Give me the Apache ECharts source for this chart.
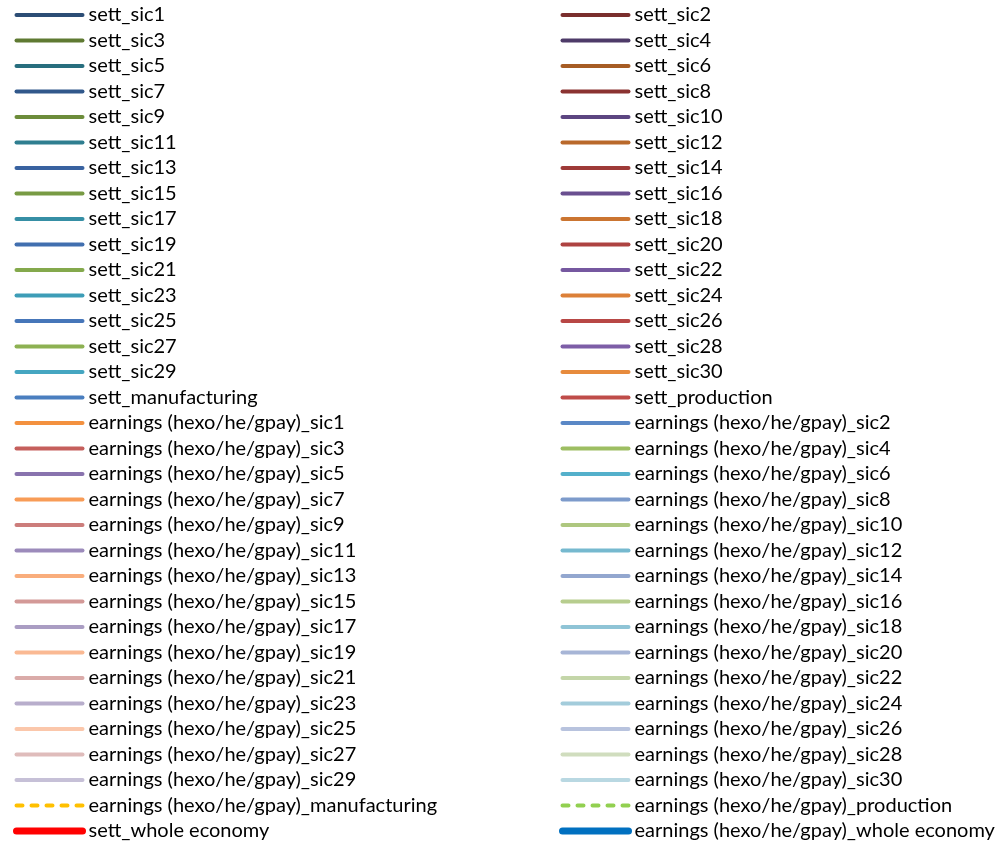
<!DOCTYPE html>
<html>
<head>
<meta charset="utf-8">
<script src="https://cdn.jsdelivr.net/npm/echarts@6/dist/echarts.min.js"></script>
<style>
html,body{margin:0;padding:0;background:#fff;}
#chart{width:997px;height:843px;}
</style>
</head>
<body>
<div id="chart"></div>
<script>
// ---- Data: series names (legend-only chart, no values are plotted) ----
const sectors = ['sic1','sic2','sic3','sic4','sic5','sic6','sic7','sic8','sic9','sic10',
  'sic11','sic12','sic13','sic14','sic15','sic16','sic17','sic18','sic19','sic20',
  'sic21','sic22','sic23','sic24','sic25','sic26','sic27','sic28','sic29','sic30',
  'manufacturing','production'];
const settPrefix = 'sett_';
const earnPrefix = 'earnings (hexo/he/gpay)_';
const wholeNames = ['sett_whole economy', 'earnings (hexo/he/gpay)_whole economy'];

// ---- Styles ----
const settColors = ['#2C4D75','#7A2E2D','#5F7A32','#4E3B69','#276E7E','#A65C24',
  '#31588B','#8B3331','#6C8C3A','#5C4581','#2F7E90','#B9692B',
  '#3962A0','#9E3A38','#789B44','#6A4F90','#368FA5','#CB7531',
  '#416FAF','#AE4341','#84A94C','#7658A0','#3D9DB7','#DC8038',
  '#4676B9','#B84745','#8DB152','#7D5EA7','#45A6C1','#E78B3D',
  '#4A7EBF','#BF4C49'];
const earnColors = ['#F3913F','#5A88C6','#C55F5C','#9DBE62','#8973AE','#54B0CB',
  '#F89C57','#7D9BCB','#CC7D7B','#AEC77F','#9C8BBB','#76B9CF',
  '#F9AD7C','#93A7CF','#D39997','#B7CD8E','#AA9DC3','#8FC4D6',
  '#FAB993','#A7B5D6','#DAABA9','#C4D6A9','#B8AECC','#A3CCDB',
  '#FBC7AB','#B8C3DE','#DFBCBB','#D0DDBE','#C6C0D7','#B9D8E2',
  '#FFC000','#92D050'];
const wholeColors = ['#FF0000', '#0070C0'];

const allNames = [];
const seriesList = [];
sectors.forEach((s, i) => {
  const n = settPrefix + s;
  allNames.push(n);
  seriesList.push({name: n, type: 'line', data: [], symbol: 'none',
    lineStyle: {color: settColors[i], width: 4, cap: 'round'}, itemStyle: {color: settColors[i]}});
});
sectors.forEach((s, i) => {
  const n = earnPrefix + s;
  const dashed = (s === 'manufacturing' || s === 'production');
  allNames.push(n);
  seriesList.push({name: n, type: 'line', data: [], symbol: 'none',
    lineStyle: {color: earnColors[i], width: 4, cap: 'round', type: dashed ? [6, 9] : 'solid'},
    itemStyle: {color: earnColors[i]}});
});
wholeNames.forEach((n, i) => {
  allNames.push(n);
  seriesList.push({name: n, type: 'line', data: [], symbol: 'none',
    lineStyle: {color: wholeColors[i], width: 7, cap: 'round'}, itemStyle: {color: wholeColors[i]}});
});

const leftNames = allNames.filter((_, i) => i % 2 === 0);
const rightNames = allNames.filter((_, i) => i % 2 === 1);

function makeLegend(names, left) {
  return {
    orient: 'vertical', left: left, top: 5, padding: 0,
    itemWidth: 66, itemHeight: 14, itemGap: 5.5,
    selectedMode: false,
    data: names,
    itemStyle: {color: 'rgba(0,0,0,0)', borderColor: 'rgba(0,0,0,0)', borderWidth: 0},
    lineStyle: {width: 'inherit', cap: 'inherit', type: 'inherit'},
    textStyle: {fontFamily: 'Lato', fontSize: 20, color: '#000', lineHeight: 20, padding: [0, 0, 0, 1]}
  };
}

const chart = echarts.init(document.getElementById('chart'));
chart.setOption({
  animation: false,
  backgroundColor: '#fff',
  grid: {left: 0, right: 0, top: 0, bottom: 0, show: false},
  xAxis: {type: 'category', show: false, data: []},
  yAxis: {type: 'value', show: false},
  legend: [makeLegend(leftNames, 13), makeLegend(rightNames, 559)],
  series: seriesList
});
</script>
</body>
</html>
